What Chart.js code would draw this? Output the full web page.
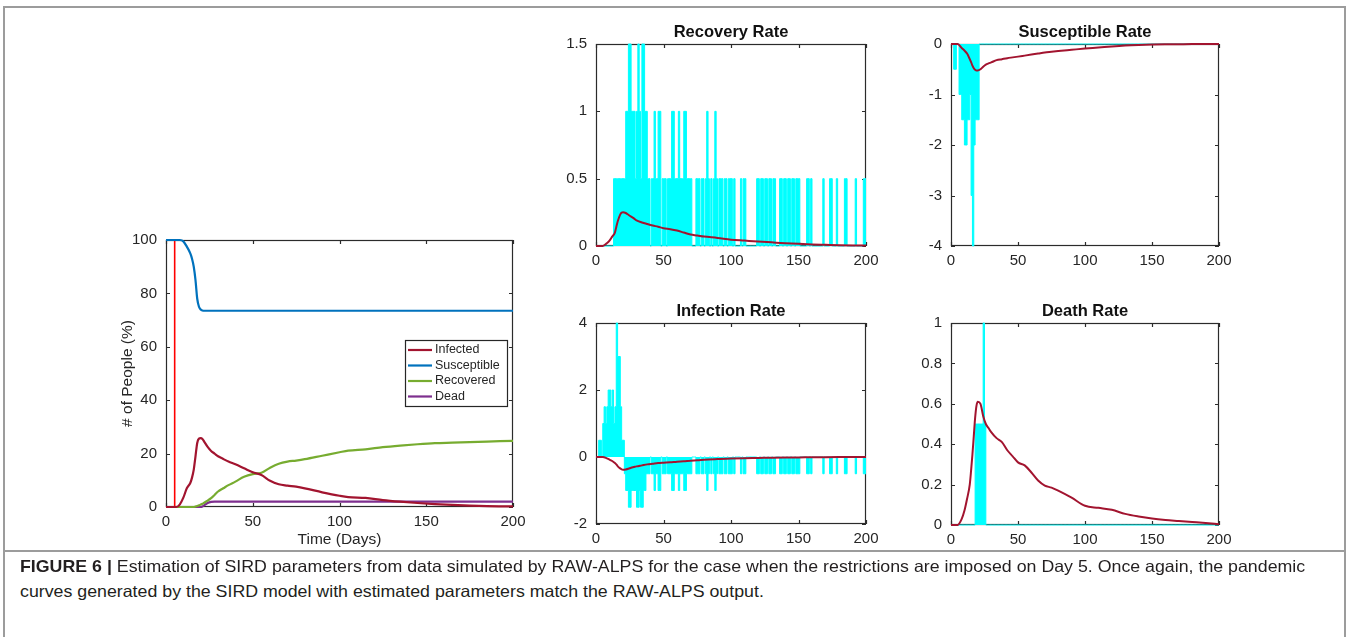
<!DOCTYPE html>
<html>
<head>
<meta charset="utf-8">
<script src="https://cdn.jsdelivr.net/npm/chart.js@4.4.1/dist/chart.umd.min.js"></script>
<style>
  body { margin: 0; background: #fff; width: 1351px; height: 637px; overflow: hidden; position: relative; }
  .frame { position: absolute; left: 3px; top: 6px; width: 1343px; height: 700px; border: 2px solid #9c9c9c; box-sizing: border-box; }
  .rule { position: absolute; left: 3px; top: 550px; width: 1343px; border-top: 2px solid #9c9c9c; }
  canvas { position: absolute; }
  .caption { position: absolute; left: 20px; font: 16.5px "Liberation Sans Narrow", "Liberation Sans", Arial, sans-serif; line-height: 19px; color: #231f20; white-space: nowrap; transform-origin: 0 50%; }
  .caption b { font-weight: bold; }
</style>
</head>
<body>
<div class="frame"></div>
<div class="rule"></div>

<canvas id="sird" width="436" height="327" style="left:96px; top:222px;"></canvas>
<canvas id="recovery" width="345" height="270" style="left:540px; top:10px;"></canvas>
<canvas id="susceptible" width="343" height="270" style="left:895px; top:10px;"></canvas>
<canvas id="infection" width="345" height="270" style="left:540px; top:289px;"></canvas>
<canvas id="death" width="343" height="270" style="left:895px; top:289px;"></canvas>

<div class="caption" id="cap1" style="top:557px;"><b>FIGURE 6 |</b> Estimation of SIRD parameters from data simulated by RAW-ALPS for the case when the restrictions are imposed on Day 5. Once again, the pandemic</div>
<div class="caption" id="cap2" style="top:582px;">curves generated by the SIRD model with estimated parameters match the RAW-ALPS output.</div>

<script>
// ---- SIRD curves (% of people) ----
const days = [0, 4, 6, 8, 10, 12, 14, 15, 16, 17, 18, 19, 20, 21, 22, 24, 26, 28, 30, 33, 36, 40, 45, 50,
  55, 60, 65, 70, 75, 80, 90, 100, 105, 115, 125, 135, 145, 155, 165, 175, 185, 200];
const infected = [0, 0, 0, 1, 3.5, 7, 9, 11, 14, 19, 24, 25.6, 25.8, 25.5, 24.5, 22.5, 21, 20, 19, 18, 17, 16, 14.5, 13,
  12, 9.8, 8.5, 8, 7.6, 7, 5.5, 4.2, 3.7, 3.4, 2.6, 2, 1.5, 1.1, 0.8, 0.5, 0.3, 0.2];
const susceptible = [100, 100, 100, 100, 99.5, 97.5, 95, 93, 90, 85, 78, 75, 74, 73.6, 73.5, 73.5, 73.5, 73.5, 73.5, 73.5, 73.5, 73.5, 73.5, 73.5,
  73.5, 73.5, 73.5, 73.5, 73.5, 73.5, 73.5, 73.5, 73.5, 73.5, 73.5, 73.5, 73.5, 73.5, 73.5, 73.5, 73.5, 73.5];
const recovered = [0, 0, 0, 0, 0, 0, 0, 0, 0, 0.2, 0.4, 0.6, 0.9, 1.2, 1.6, 2.4, 3.3, 4.5, 5.8, 7, 8.2, 9.5, 11.3, 12.3,
  12.8, 14.7, 16.2, 17, 17.4, 17.9, 19.2, 20.5, 21.1, 21.6, 22.4, 23, 23.5, 23.9, 24.1, 24.3, 24.5, 24.8];
const dead = [0, 0, 0, 0, 0, 0, 0, 0, 0, 0, 0, 0, 0, 0.2, 0.6, 1.5, 1.9, 2, 2, 2, 2, 2, 2, 2,
  2, 2, 2, 2, 2, 2, 2, 2, 2, 2, 2, 2, 2, 2, 2, 2, 2, 2];
const restrictionDay = 5;

// ---- fitted rates ----
const rateDays = [0, 5, 8, 10, 12, 14, 15, 16, 17, 18, 19, 20, 22, 24, 26, 28, 30, 34, 38, 42, 46, 50, 55, 60,
  65, 70, 75, 80, 90, 100, 110, 120, 130, 140, 150, 160, 170, 180, 190, 200];
const recoveryFit = [0, 0, 0.02, 0.04, 0.07, 0.1, 0.14, 0.18, 0.21, 0.235, 0.248, 0.25, 0.245, 0.232, 0.218, 0.205, 0.19, 0.175, 0.163, 0.152, 0.143, 0.132, 0.125, 0.115,
  0.1, 0.085, 0.078, 0.07, 0.06, 0.047, 0.04, 0.033, 0.027, 0.021, 0.016, 0.012, 0.009, 0.006, 0.004, 0.003];
const susceptibleFit = [0, 0, -0.08, -0.13, -0.19, -0.3, -0.36, -0.43, -0.48, -0.51, -0.525, -0.525, -0.5, -0.45, -0.41, -0.385, -0.365, -0.32, -0.3, -0.28, -0.265, -0.25, -0.23, -0.21,
  -0.19, -0.17, -0.155, -0.14, -0.115, -0.09, -0.07, -0.048, -0.03, -0.018, -0.01, -0.006, -0.004, -0.002, -0.001, 0];
const infectionFit = [0, 0, -0.04, -0.08, -0.12, -0.18, -0.22, -0.27, -0.31, -0.34, -0.37, -0.38, -0.37, -0.35, -0.32, -0.3, -0.28, -0.25, -0.22, -0.2, -0.18, -0.17, -0.16, -0.14,
  -0.13, -0.11, -0.1, -0.085, -0.06, -0.045, -0.035, -0.028, -0.02, -0.015, -0.012, -0.008, -0.005, -0.003, -0.002, -0.001];
const deathFit = [0, 0, 0.03, 0.07, 0.13, 0.2, 0.27, 0.35, 0.44, 0.53, 0.59, 0.61, 0.6, 0.54, 0.5, 0.48, 0.46, 0.43, 0.41, 0.37, 0.34, 0.31, 0.295, 0.26,
  0.22, 0.195, 0.185, 0.17, 0.135, 0.095, 0.085, 0.075, 0.055, 0.042, 0.032, 0.025, 0.02, 0.015, 0.01, 0.004];

// ---- day-by-day observed rates (days 0..200) ----
const recoveryObs = [
  0, 0, 0, 0, 0, 0, 0, 0, 0, 0,
  0, 0, 0, 0.5, 0.5, 0.5, 0.5, 0.5, 0.5, 0.5,
  0.5, 0.5, 1, 1, 1.5, 1.5, 1, 1, 1, 0.5,
  1, 1.5, 1, 0.5, 1.5, 1.5, 1, 1, 0.5, 0.5,
  0, 0.5, 0.5, 1, 0.5, 0.5, 1, 1, 0, 0.5,
  0.5, 0.5, 0, 0.5, 0.5, 0.5, 1, 1, 0.5, 0.5,
  0.5, 1, 0.5, 0.5, 0.5, 1, 1, 0.5, 0.5, 0.5,
  0.5, 0, 0, 0, 0.5, 0.5, 0.5, 0, 0.5, 0.5,
  0, 0.5, 1, 0.5, 0, 0.5, 0, 0.5, 1, 0.5,
  0, 0.5, 0.5, 0.5, 0, 0.5, 0.5, 0, 0.5, 0.5,
  0.5, 0, 0.5, 0, 0, 0, 0, 0.5, 0, 0.5,
  0.5, 0, 0, 0, 0, 0, 0, 0, 0, 0.5,
  0.5, 0, 0.5, 0.5, 0, 0.5, 0.5, 0, 0.5, 0.5,
  0, 0.5, 0.5, 0, 0, 0, 0.5, 0.5, 0, 0.5,
  0.5, 0, 0.5, 0.5, 0, 0.5, 0.5, 0, 0.5, 0.5,
  0.5, 0, 0, 0, 0, 0, 0.5, 0.5, 0, 0.5,
  0, 0, 0, 0, 0, 0, 0, 0, 0.5, 0,
  0, 0, 0, 0.5, 0.5, 0, 0, 0, 0.5, 0,
  0, 0, 0, 0, 0.5, 0.5, 0, 0, 0, 0,
  0, 0, 0.5, 0, 0, 0, 0, 0, 0.5, 0.5,
  0.5
];
const susceptibleObs = [
  0, 0, -0.5, -0.5, 0, 0, -1, -1, -1.5, -1.5,
  -2, -2, -1.5, -1.5, -1, -3, -4, -2, -1.5, -1.5,
  -1.5, 0, 0, 0, 0, 0, 0, 0, 0, 0,
  0, 0, 0, 0, 0, 0, 0, 0, 0, 0,
  0, 0, 0, 0, 0, 0, 0, 0, 0, 0,
  0, 0, 0, 0, 0, 0, 0, 0, 0, 0,
  0, 0, 0, 0, 0, 0, 0, 0, 0, 0,
  0, 0, 0, 0, 0, 0, 0, 0, 0, 0,
  0, 0, 0, 0, 0, 0, 0, 0, 0, 0,
  0, 0, 0, 0, 0, 0, 0, 0, 0, 0,
  0, 0, 0, 0, 0, 0, 0, 0, 0, 0,
  0, 0, 0, 0, 0, 0, 0, 0, 0, 0,
  0, 0, 0, 0, 0, 0, 0, 0, 0, 0,
  0, 0, 0, 0, 0, 0, 0, 0, 0, 0,
  0, 0, 0, 0, 0, 0, 0, 0, 0, 0,
  0, 0, 0, 0, 0, 0, 0, 0, 0, 0,
  0, 0, 0, 0, 0, 0, 0, 0, 0, 0,
  0, 0, 0, 0, 0, 0, 0, 0, 0, 0,
  0, 0, 0, 0, 0, 0, 0, 0, 0, 0,
  0, 0, 0, 0, 0, 0, 0, 0, 0, 0,
  0
];
const infectionObs = [
  0, 0, 0.5, 0.5, 0, 1, 1.5, 1, 1.5, 2,
  2, 1.5, 2, 1, 1.5, 4, 3, 3, 1.5, 0.5,
  0.5, -0.5, -1, -1, -1.5, -1.5, -1, -1, -1, -1,
  -1.5, -1.5, -1, -1.5, -1.5, -1, -1, -0.5, -0.5, -0.5,
  0, -0.5, -0.5, -1, -0.5, -0.5, -1, -1, 0, -0.5,
  -0.5, -0.5, 0, -0.5, -0.5, -0.5, -1, -1, -0.5, -0.5,
  -0.5, -1, -0.5, -0.5, -0.5, -1, -1, -0.5, -0.5, -0.5,
  -0.5, 0, 0, 0, -0.5, -0.5, -0.5, 0, -0.5, -0.5,
  0, -0.5, -1, -0.5, 0, -0.5, 0, -0.5, -1, -0.5,
  0, -0.5, -0.5, -0.5, 0, -0.5, -0.5, 0, -0.5, -0.5,
  -0.5, 0, -0.5, 0, 0, 0, 0, -0.5, 0, -0.5,
  -0.5, 0, 0, 0, 0, 0, 0, 0, 0, -0.5,
  -0.5, 0, -0.5, -0.5, 0, -0.5, -0.5, 0, -0.5, -0.5,
  0, -0.5, -0.5, 0, 0, 0, -0.5, -0.5, 0, -0.5,
  -0.5, 0, -0.5, -0.5, 0, -0.5, -0.5, 0, -0.5, -0.5,
  -0.5, 0, 0, 0, 0, 0, -0.5, -0.5, 0, -0.5,
  0, 0, 0, 0, 0, 0, 0, 0, -0.5, 0,
  0, 0, 0, -0.5, -0.5, 0, 0, 0, -0.5, 0,
  0, 0, 0, 0, -0.5, -0.5, 0, 0, 0, 0,
  0, 0, -0.5, 0, 0, 0, 0, 0, -0.5, -0.5,
  -0.5
];
const deathObs = [
  0, 0, 0, 0, 0, 0, 0, 0, 0, 0,
  0, 0, 0, 0, 0, 0, 0, 0, 0.5, 0.5,
  0.5, 0.5, 0.5, 0.5, 1, 0.5, 0, 0, 0, 0,
  0, 0, 0, 0, 0, 0, 0, 0, 0, 0,
  0, 0, 0, 0, 0, 0, 0, 0, 0, 0,
  0, 0, 0, 0, 0, 0, 0, 0, 0, 0,
  0, 0, 0, 0, 0, 0, 0, 0, 0, 0,
  0, 0, 0, 0, 0, 0, 0, 0, 0, 0,
  0, 0, 0, 0, 0, 0, 0, 0, 0, 0,
  0, 0, 0, 0, 0, 0, 0, 0, 0, 0,
  0, 0, 0, 0, 0, 0, 0, 0, 0, 0,
  0, 0, 0, 0, 0, 0, 0, 0, 0, 0,
  0, 0, 0, 0, 0, 0, 0, 0, 0, 0,
  0, 0, 0, 0, 0, 0, 0, 0, 0, 0,
  0, 0, 0, 0, 0, 0, 0, 0, 0, 0,
  0, 0, 0, 0, 0, 0, 0, 0, 0, 0,
  0, 0, 0, 0, 0, 0, 0, 0, 0, 0,
  0, 0, 0, 0, 0, 0, 0, 0, 0, 0,
  0, 0, 0, 0, 0, 0, 0, 0, 0, 0,
  0, 0, 0, 0, 0, 0, 0, 0, 0, 0,
  0
];

const FONT = '"Liberation Sans", Arial, Helvetica, sans-serif';
const DARK_RED = '#A2142F';
const CYAN = '#00FFFF';

Chart.defaults.font.family = FONT;
Chart.defaults.color = '#262626';

const pts = (xs, ys) => xs.map((x, i) => ({ x: x, y: ys[i] }));
const daily = ys => ys.map((y, d) => ({ x: d, y: y }));
const plainNumber = v => String(+v.toFixed(3));

// matlab-style box with inward ticks on all four sides, plus titles
const boxAxes = {
  id: 'boxAxes',
  beforeDatasetsDraw(chart) {
    const { ctx, chartArea: a, scales: { x, y } } = chart;
    ctx.save();
    ctx.strokeStyle = '#2b2b2b';
    ctx.lineWidth = 1.2;
    ctx.strokeRect(a.left + 0.5, a.top + 0.5, a.width - 1, a.height - 1);
    ctx.beginPath();
    x.ticks.forEach(t => {
      const px = Math.round(x.getPixelForValue(t.value)) + 0.5;
      ctx.moveTo(px, a.bottom); ctx.lineTo(px, a.bottom - 4);
      ctx.moveTo(px, a.top); ctx.lineTo(px, a.top + 4);
    });
    y.ticks.forEach(t => {
      const py = Math.round(y.getPixelForValue(t.value)) + 0.5;
      ctx.moveTo(a.left, py); ctx.lineTo(a.left + 4, py);
      ctx.moveTo(a.right, py); ctx.lineTo(a.right - 4, py);
    });
    ctx.stroke();
    ctx.restore();
  },
  afterDraw(chart, args, opts) {
    const { ctx, chartArea: a } = chart;
    ctx.save();
    ctx.fillStyle = '#111';
    ctx.textAlign = 'center';
    ctx.textBaseline = 'middle';
    if (opts.title) {
      ctx.font = 'bold 16.5px ' + FONT;
      ctx.fillText(opts.title, (a.left + a.right) / 2, a.top - 12);
    }
    if (opts.xTitle) {
      ctx.font = '15.5px ' + FONT;
      ctx.fillStyle = '#262626';
      ctx.fillText(opts.xTitle, (a.left + a.right) / 2, a.bottom + 33);
    }
    if (opts.yTitle) {
      ctx.font = '15.5px ' + FONT;
      ctx.fillStyle = '#262626';
      ctx.translate(a.left - 38, (a.top + a.bottom) / 2);
      ctx.rotate(-Math.PI / 2);
      ctx.fillText(opts.yTitle, 0, 0);
    }
    ctx.restore();
  }
};

// legend box drawn inside the plot area
const insetLegend = {
  id: 'insetLegend',
  afterDraw(chart, args, opts) {
    if (!opts.show) return;
    const { ctx, chartArea: a } = chart;
    const items = chart.data.datasets.filter(d => d.label);
    const w = 102, rowH = 15.5, h = items.length * rowH + 4;
    const left = a.right - w - 6, top = a.top + 100;
    ctx.save();
    ctx.fillStyle = '#fff';
    ctx.fillRect(left, top, w, h);
    ctx.strokeStyle = '#262626';
    ctx.lineWidth = 1.2;
    ctx.strokeRect(left + 0.5, top + 0.5, w, h);
    ctx.font = '12.5px ' + FONT;
    ctx.textBaseline = 'middle';
    items.forEach((d, i) => {
      const cy = top + 10 + i * rowH;
      ctx.strokeStyle = d.borderColor;
      ctx.lineWidth = 2.2;
      ctx.beginPath();
      ctx.moveTo(left + 3, cy); ctx.lineTo(left + 27, cy);
      ctx.stroke();
      ctx.fillStyle = '#262626';
      ctx.fillText(d.label, left + 30, cy);
    });
    ctx.restore();
  }
};

function panel(id, o) {
  return new Chart(document.getElementById(id), {
    type: 'line',
    data: { datasets: o.datasets },
    options: {
      responsive: false,
      animation: false,
      events: [],
      layout: { padding: { top: o.padTop, right: 19, left: 0, bottom: 0 } },
      elements: { point: { radius: 0 } },
      plugins: {
        legend: { display: false },
        tooltip: { enabled: false },
        boxAxes: { title: o.title, xTitle: o.xTitle, yTitle: o.yTitle },
        insetLegend: { show: !!o.legend }
      },
      scales: {
        x: {
          type: 'linear', min: 0, max: 200, offset: false,
          grid: { display: false, drawTicks: false }, border: { display: false },
          ticks: { stepSize: 50, padding: 6, maxRotation: 0, font: { size: 15 } },
          afterFit: s => { s.height = o.xHeight; }
        },
        y: {
          type: 'linear', min: o.yMin, max: o.yMax,
          grid: { display: false, drawTicks: false }, border: { display: false },
          ticks: { stepSize: o.yStep, padding: 9, font: { size: 15 }, callback: plainNumber },
          afterFit: s => { s.width = o.yWidth; }
        }
      }
    },
    plugins: [boxAxes, insetLegend]
  });
}

function fitLine(xs, ys) {
  return { data: pts(xs, ys), borderColor: DARK_RED, borderWidth: 2, cubicInterpolationMode: 'monotone', order: 0, clip: 2 };
}
function obsSteps(ys) {
  return { data: daily(ys), borderColor: CYAN, backgroundColor: CYAN, borderWidth: 1, stepped: true, fill: 'origin', order: 1, clip: 1.5 };
}

const curve = (label, ys, color) => ({ label: label, data: pts(days, ys), borderColor: color, borderWidth: 2.2, cubicInterpolationMode: 'monotone', clip: 2 });

panel('sird', {
  padTop: 17, yWidth: 70, xHeight: 42,
  yMin: 0, yMax: 100, yStep: 20,
  xTitle: 'Time (Days)', yTitle: '# of People (%)', legend: true,
  datasets: [
    curve('Infected', infected, DARK_RED),
    curve('Susceptible', susceptible, '#0072BD'),
    curve('Recovered', recovered, '#77AC30'),
    curve('Dead', dead, '#7E2F8E'),
    { data: [{ x: restrictionDay, y: 0 }, { x: restrictionDay, y: 100 }], borderColor: '#FF0000', borderWidth: 1.6, clip: 2 }
  ]
});

panel('recovery', {
  padTop: 34, yWidth: 56, xHeight: 34,
  yMin: 0, yMax: 1.5, yStep: 0.5, title: 'Recovery Rate',
  datasets: [fitLine(rateDays, recoveryFit), obsSteps(recoveryObs)]
});

panel('susceptible', {
  padTop: 34, yWidth: 56, xHeight: 34,
  yMin: -4, yMax: 0, yStep: 1, title: 'Susceptible Rate',
  datasets: [fitLine(rateDays, susceptibleFit), obsSteps(susceptibleObs)]
});

panel('infection', {
  padTop: 34, yWidth: 56, xHeight: 35,
  yMin: -2, yMax: 4, yStep: 2, title: 'Infection Rate',
  datasets: [fitLine(rateDays, infectionFit), obsSteps(infectionObs)]
});

panel('death', {
  padTop: 34, yWidth: 56, xHeight: 34,
  yMin: 0, yMax: 1, yStep: 0.2, title: 'Death Rate',
  datasets: [fitLine(rateDays, deathFit), obsSteps(deathObs)]
});

// squeeze the caption lines to the column width
const cap1 = document.getElementById('cap1');
const cap2 = document.getElementById('cap2');
const squeeze = 1285 / cap1.scrollWidth;
cap1.style.transform = 'scaleX(' + squeeze + ')';
cap2.style.transform = 'scaleX(' + squeeze + ')';
</script>
</body>
</html>
